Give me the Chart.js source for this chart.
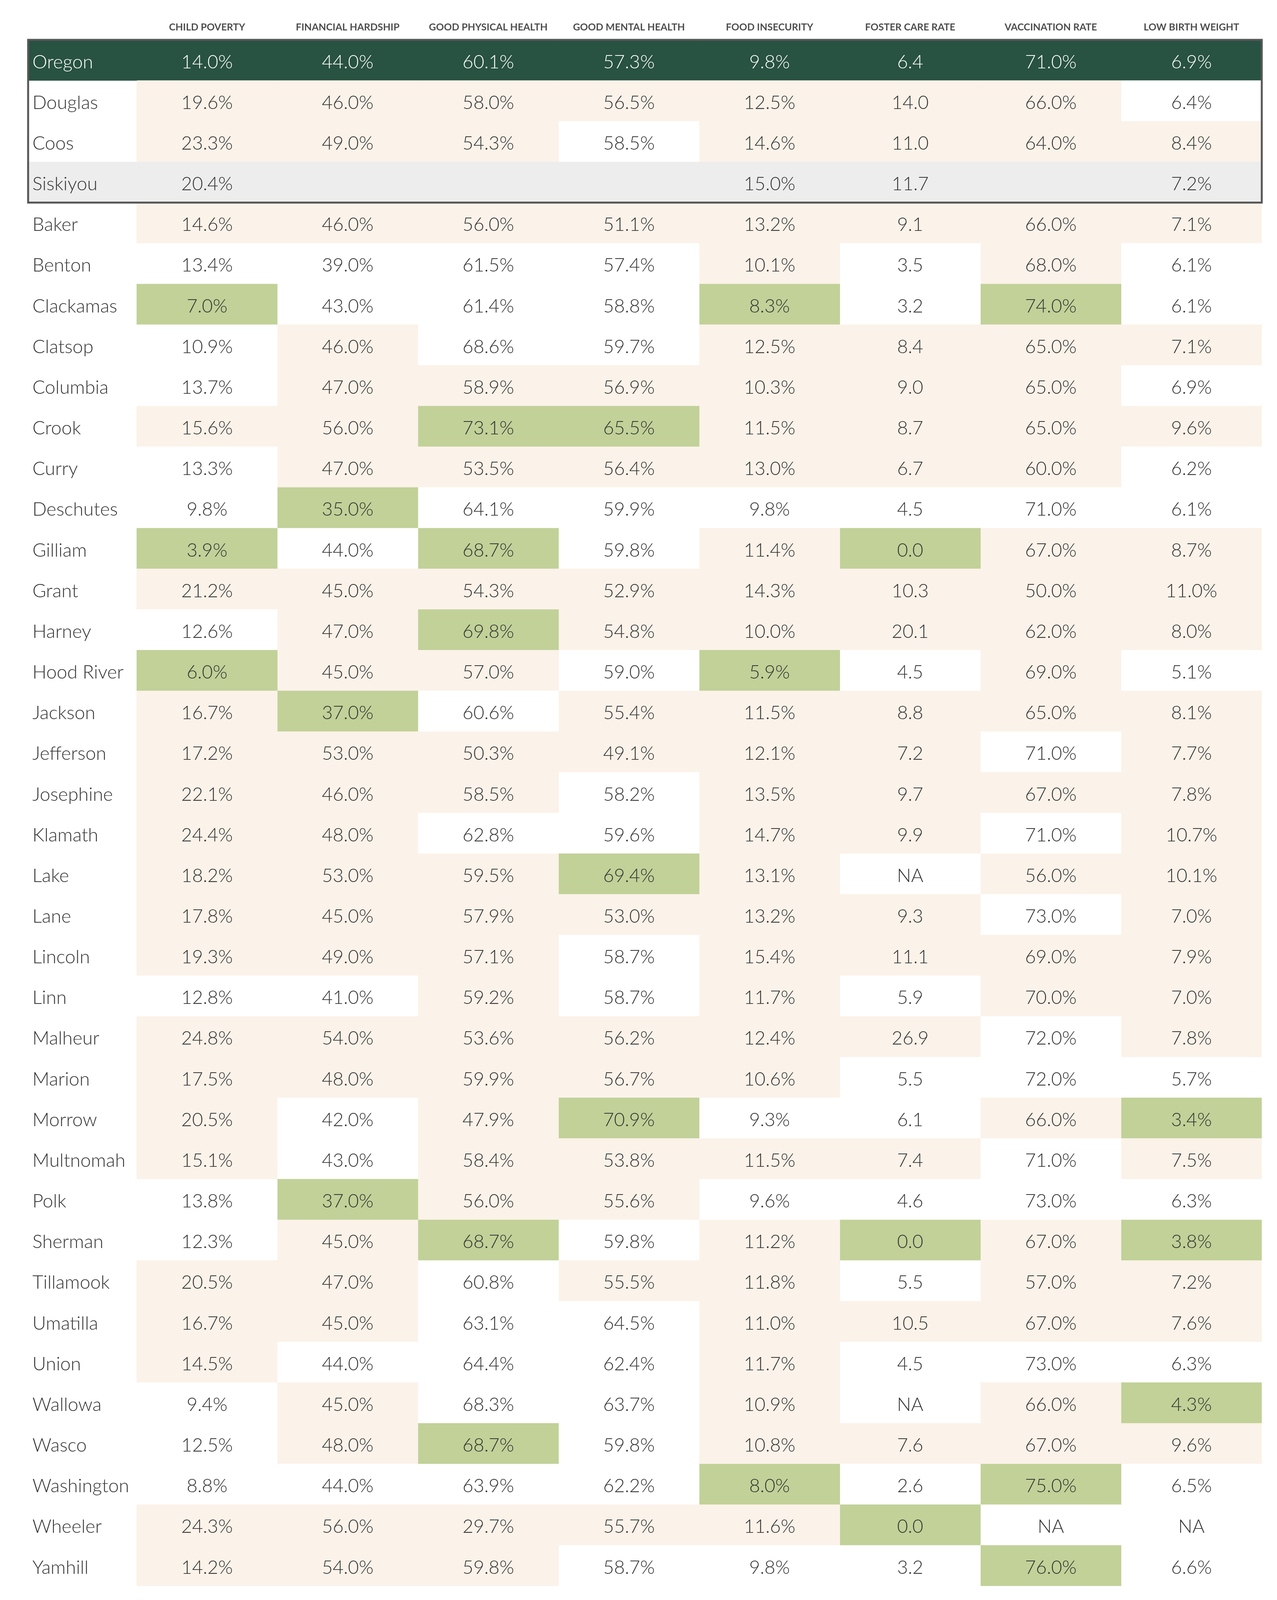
<!DOCTYPE html>
<html>
<head>
<meta charset="utf-8">
<title>Oregon county well-being indicators</title>
<script src="https://cdn.jsdelivr.net/npm/chart.js@4.4.1/dist/chart.umd.min.js"></script>
<style>
  html, body { margin: 0; padding: 0; background: #fff; }
  #wrap { width: 3270px; height: 4100px; }
</style>
</head>
<body>
<div id="wrap"><canvas id="table" width="3270" height="4100"></canvas></div>
<script>
// column headers
const COLUMNS = ['CHILD POVERTY', 'FINANCIAL HARDSHIP', 'GOOD PHYSICAL HEALTH', 'GOOD MENTAL HEALTH',
                 'FOOD INSECURITY', 'FOSTER CARE RATE', 'VACCINATION RATE', 'LOW BIRTH WEIGHT'];

// rows: state, comparison counties, then all other counties
const COUNTIES = ['Oregon', 'Douglas', 'Coos', 'Siskiyou', 'Baker', 'Benton', 'Clackamas', 'Clatsop',
  'Columbia', 'Crook', 'Curry', 'Deschutes', 'Gilliam', 'Grant', 'Harney', 'Hood River', 'Jackson',
  'Jefferson', 'Josephine', 'Klamath', 'Lake', 'Lane', 'Lincoln', 'Linn', 'Malheur', 'Marion', 'Morrow',
  'Multnomah', 'Polk', 'Sherman', 'Tillamook', 'Umatilla', 'Union', 'Wallowa', 'Wasco', 'Washington',
  'Wheeler', 'Yamhill'];

// '' = not reported, 'NA' = not available
const childPoverty = [14.0, 19.6, 23.3, 20.4, 14.6, 13.4, 7.0, 10.9, 13.7, 15.6, 13.3, 9.8, 3.9, 21.2, 12.6,
  6.0, 16.7, 17.2, 22.1, 24.4, 18.2, 17.8, 19.3, 12.8, 24.8, 17.5, 20.5, 15.1, 13.8, 12.3, 20.5, 16.7, 14.5,
  9.4, 12.5, 8.8, 24.3, 14.2];
const financialHardship = [44, 46, 49, '', 46, 39, 43, 46, 47, 56, 47, 35, 44, 45, 47, 45, 37, 53, 46, 48,
  53, 45, 49, 41, 54, 48, 42, 43, 37, 45, 47, 45, 44, 45, 48, 44, 56, 54];
const physicalHealth = [60.1, 58.0, 54.3, '', 56.0, 61.5, 61.4, 68.6, 58.9, 73.1, 53.5, 64.1, 68.7, 54.3,
  69.8, 57.0, 60.6, 50.3, 58.5, 62.8, 59.5, 57.9, 57.1, 59.2, 53.6, 59.9, 47.9, 58.4, 56.0, 68.7, 60.8, 63.1,
  64.4, 68.3, 68.7, 63.9, 29.7, 59.8];
const mentalHealth = [57.3, 56.5, 58.5, '', 51.1, 57.4, 58.8, 59.7, 56.9, 65.5, 56.4, 59.9, 59.8, 52.9,
  54.8, 59.0, 55.4, 49.1, 58.2, 59.6, 69.4, 53.0, 58.7, 58.7, 56.2, 56.7, 70.9, 53.8, 55.6, 59.8, 55.5, 64.5,
  62.4, 63.7, 59.8, 62.2, 55.7, 58.7];
const foodInsecurity = [9.8, 12.5, 14.6, 15.0, 13.2, 10.1, 8.3, 12.5, 10.3, 11.5, 13.0, 9.8, 11.4, 14.3,
  10.0, 5.9, 11.5, 12.1, 13.5, 14.7, 13.1, 13.2, 15.4, 11.7, 12.4, 10.6, 9.3, 11.5, 9.6, 11.2, 11.8, 11.0,
  11.7, 10.9, 10.8, 8.0, 11.6, 9.8];
const fosterCare = [6.4, 14.0, 11.0, 11.7, 9.1, 3.5, 3.2, 8.4, 9.0, 8.7, 6.7, 4.5, 0.0, 10.3, 20.1, 4.5,
  8.8, 7.2, 9.7, 9.9, 'NA', 9.3, 11.1, 5.9, 26.9, 5.5, 6.1, 7.4, 4.6, 0.0, 5.5, 10.5, 4.5, 'NA', 7.6, 2.6,
  0.0, 3.2];
const vaccination = [71, 66, 64, '', 66, 68, 74, 65, 65, 65, 60, 71, 67, 50, 62, 69, 65, 71, 67, 71, 56,
  73, 69, 70, 72, 72, 66, 71, 73, 67, 57, 67, 73, 66, 67, 75, 'NA', 76];
const lowBirthWeight = [6.9, 6.4, 8.4, 7.2, 7.1, 6.1, 6.1, 7.1, 6.9, 9.6, 6.2, 6.1, 8.7, 11.0, 8.0, 5.1,
  8.1, 7.7, 7.8, 10.7, 10.1, 7.0, 7.9, 7.0, 7.8, 5.7, 3.4, 7.5, 6.3, 3.8, 7.2, 7.6, 6.3, 4.3, 9.6, 6.5,
  'NA', 6.6];

const isPercent = [true, true, true, true, true, false, true, true];

// rating per cell: o = state, s = comparison (out of state), g = better, b = worse, w = about even
const rating = ['oooooooo', 'bbbbbbbw', 'bbbwbbbb', 'ssssssss', 'bbbbbbbb', 'wwwwbwbw', 'gwwwgwgw',
  'wbwwbbbb', 'wbbbbbbw', 'bbggbbbb', 'wbbbbbbw', 'wgwwwwww', 'gwgwbgbb', 'bbbbbbbb', 'wbgbbbbb',
  'gbbwgwbw', 'bgwbbbbb', 'bbbbbbwb', 'bbbwbbbb', 'bbwwbbwb', 'bbbgbwbb', 'bbbbbbwb', 'bbbwbbbb',
  'wwbwbwbb', 'bbbbbbwb', 'bbbbbwww', 'bwbgwwbg', 'bwbbbbwb', 'wgbbwwww', 'wbgwbgbg', 'bbwbbwbb',
  'bbwwbbbb', 'bwwwbwww', 'wbwwbwbg', 'wbgwbbbb', 'wwwwgwgw', 'bbbbbgww', 'bbbwwwgw'];

const SERIES = [childPoverty, financialHardship, physicalHealth, mentalHealth,
                foodInsecurity, fosterCare, vaccination, lowBirthWeight];

const FILL = { o: '#285241', s: '#ededed', g: '#c1d198', b: '#fbf2e9', w: '#ffffff' };
const NAME_SPAN = 278 / 360;   // county name column, in units of a data column
const FONT = 'Lato, "Open Sans", sans-serif';

function fmt(v, c) {
  if (v === '' || v === 'NA') return v;
  return v.toFixed(1) + (isPercent[c] ? '%' : '');
}

const datasets = COLUMNS.map((name, c) => ({
  label: name,
  data: COUNTIES.map(() => [c, c + 1]),
  backgroundColor: rating.map(r => FILL[r[c]])
}));
// name column only shaded for the state and the out-of-state row
datasets.unshift({
  label: 'County',
  data: COUNTIES.map(() => [-NAME_SPAN, 0]),
  backgroundColor: rating.map(r => (r[0] === 'o' || r[0] === 's') ? FILL[r[0]] : 'rgba(0,0,0,0)')
});

const cellText = {
  id: 'cellText',
  afterDatasetsDraw(chart) {
    const ctx = chart.ctx;
    const x = chart.scales.x, y = chart.scales.y;
    ctx.save();
    ctx.font = '300 48px ' + FONT;
    ctx.textAlign = 'center';
    ctx.textBaseline = 'middle';
    COUNTIES.forEach((county, r) => {
      const py = y.getPixelForValue(r) + 5;
      SERIES.forEach((vals, c) => {
        ctx.fillStyle = r === 0 ? '#ffffff' : '#333333';
        ctx.fillText(fmt(vals[r], c), x.getPixelForValue(c + 0.5), py);
      });
    });

    // frame round Oregon and the neighbouring comparison rows
    const half = (y.getPixelForValue(1) - y.getPixelForValue(0)) / 2;
    const top = y.getPixelForValue(0) - half;
    const bottom = y.getPixelForValue(3) + half;
    ctx.strokeStyle = '#575757';
    ctx.lineWidth = 5;
    ctx.strokeRect(x.left, top, x.right - x.left, bottom - top);
    ctx.restore();
  }
};

new Chart(document.getElementById('table'), {
  type: 'bar',
  data: { labels: COUNTIES, datasets: datasets },
  options: {
    indexAxis: 'y',
    responsive: false,
    animation: false,
    devicePixelRatio: 1,
    layout: { padding: { left: 72, right: 39, top: 0, bottom: 38 } },
    datasets: { bar: { grouped: false, barPercentage: 1, categoryPercentage: 1, borderWidth: 0 } },
    plugins: { legend: { display: false }, tooltip: { enabled: false } },
    scales: {
      x: {
        type: 'linear',
        position: 'top',
        min: -NAME_SPAN,
        max: COLUMNS.length,
        grid: { display: false },
        border: { display: false },
        afterFit: s => { s.height = 102; },
        afterBuildTicks: s => { s.ticks = COLUMNS.map((_, i) => ({ value: i + 0.5 })); },
        ticks: {
          autoSkip: false,
          maxRotation: 0,
          padding: 9,
          color: '#4d4d4d',
          font: { family: FONT, size: 25, weight: 'bold' },
          callback: (v, i) => COLUMNS[i]
        }
      },
      y: {
        grid: { display: false },
        border: { display: false },
        afterFit: s => { s.width = 0; },
        ticks: {
          z: 1,
          mirror: true,
          padding: 11,
          labelOffset: 5,
          autoSkip: false,
          color: c => c.index === 0 ? '#ffffff' : '#333333',
          font: { family: FONT, size: 48, weight: 300 }
        }
      }
    }
  },
  plugins: [cellText]
});
</script>
</body>
</html>
